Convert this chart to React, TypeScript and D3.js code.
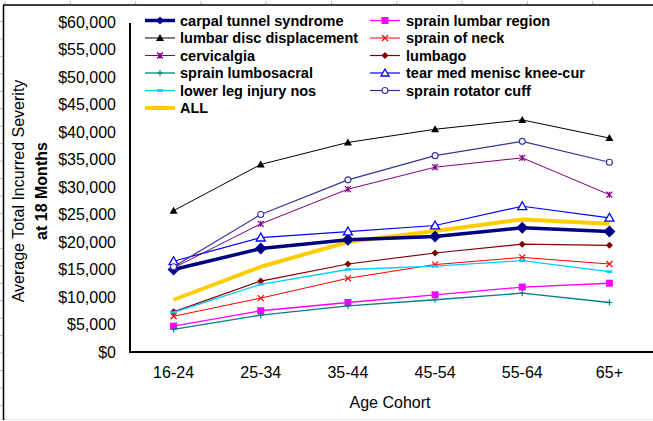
import React from "react";
import * as d3 from "d3";

// age groups on the x axis
const categories = ["16-24", "25-34", "35-44", "45-54", "55-64", "65+"];

// average total incurred severity at 18 months
const carpalTunnel = [15000, 18800, 20400, 21000, 22600, 21900];
const sprainLumbarRegion = [4700, 7500, 9000, 10400, 11800, 12500];
const lumbarDisc = [25700, 34100, 38100, 40500, 42200, 38900];
const sprainOfNeck = [6500, 9800, 13400, 15900, 17200, 16000];
const cervicalgia = [15300, 23300, 29600, 33600, 35300, 28600];
const lumbago = [7300, 12900, 16000, 18000, 19600, 19400];
const sprainLumbosacral = [4100, 6700, 8400, 9500, 10700, 9000];
const tearMedMenisc = [16500, 20800, 21900, 23000, 26500, 24400];
const lowerLegInjury = [7200, 12300, 15000, 15600, 16600, 14600];
const sprainRotatorCuff = [15500, 25000, 31300, 35700, 38300, 34500];
const allClaims = [9500, 15500, 20000, 22000, 24100, 23300];

const yTicks = [0, 5000, 10000, 15000, 20000, 25000, 30000, 35000, 40000, 45000, 50000, 55000, 60000];

const FONT = "'Liberation Sans', Arial, sans-serif";

type Marker = "diamond" | "triangle" | "triangleOpen" | "square" | "x" | "asterisk" | "plus" | "dash" | "circleOpen" | "none";

const series = [
  { name: "carpal tunnel syndrome", values: carpalTunnel, color: "#000080", width: 3.5, marker: "diamond" as Marker, size: 6 },
  { name: "sprain lumbar region", values: sprainLumbarRegion, color: "#FF00FF", width: 1.3, marker: "square" as Marker, size: 3.5 },
  { name: "lumbar disc displacement", values: lumbarDisc, color: "#000000", width: 1, marker: "triangle" as Marker, size: 4 },
  { name: "sprain of neck", values: sprainOfNeck, color: "#FF0000", width: 1, marker: "x" as Marker, size: 3 },
  { name: "cervicalgia", values: cervicalgia, color: "#800080", width: 1, marker: "asterisk" as Marker, size: 3 },
  { name: "lumbago", values: lumbago, color: "#800000", width: 1.2, marker: "diamond" as Marker, size: 3.5 },
  { name: "sprain lumbosacral", values: sprainLumbosacral, color: "#008080", width: 1.3, marker: "plus" as Marker, size: 3 },
  { name: "tear med menisc knee-cur", values: tearMedMenisc, color: "#0000FF", width: 1.2, marker: "triangleOpen" as Marker, size: 4.5 },
  { name: "lower leg injury nos", values: lowerLegInjury, color: "#00CCFF", width: 1.3, marker: "dash" as Marker, size: 3 },
  { name: "sprain rotator cuff", values: sprainRotatorCuff, color: "#333399", width: 1.2, marker: "circleOpen" as Marker, size: 3 },
  { name: "ALL", values: allClaims, color: "#FFCC00", width: 4, marker: "none" as Marker, size: 0 },
];

function MarkerShape({ type, color, size, x, y }: { type: Marker; color: string; size: number; x: number; y: number }) {
  const s = size;
  const t = `translate(${x},${y})`;
  switch (type) {
    case "diamond":
      return <path transform={t} d={`M0,${-s}L${s},0L0,${s}L${-s},0Z`} fill={color} />;
    case "triangle":
      return <path transform={t} d={`M0,${-s}L${s},${s * 0.75}L${-s},${s * 0.75}Z`} fill={color} />;
    case "triangleOpen":
      return <path transform={t} d={`M0,${-s}L${s},${s * 0.75}L${-s},${s * 0.75}Z`} fill="#fff" stroke={color} strokeWidth={1.3} />;
    case "square":
      return <rect transform={t} x={-s} y={-s} width={2 * s} height={2 * s} fill={color} />;
    case "x":
      return <path transform={t} d={`M${-s},${-s}L${s},${s}M${-s},${s}L${s},${-s}`} stroke={color} strokeWidth={1.2} />;
    case "asterisk":
      return <path transform={t} d={`M${-s},${-s}L${s},${s}M${-s},${s}L${s},${-s}M0,${-s}L0,${s}`} stroke={color} strokeWidth={1.2} />;
    case "plus":
      return <path transform={t} d={`M${-s},0L${s},0M0,${-s}L0,${s}`} stroke={color} strokeWidth={1.2} />;
    case "dash":
      return <path transform={t} d={`M${-s},0L${s},0`} stroke={color} strokeWidth={2.5} />;
    case "circleOpen":
      return <circle transform={t} r={s} fill="#fff" stroke={color} strokeWidth={1.1} />;
    default:
      return null;
  }
}

export default function App() {
  const width = 653;
  const height = 421;
  const left = 130;
  const right = 653;
  const top = 22;
  const bottom = 352;

  const x = d3.scaleBand().domain(categories).range([left, right]);
  const cx = (c: string) => (x(c) as number) + x.bandwidth() / 2;
  const y = d3.scaleLinear().domain([0, 60000]).range([bottom, top]);
  const fmt = d3.format("$,.0f");

  const line = d3
    .line<number>()
    .x((_, i) => cx(categories[i]))
    .y((d) => y(d));

  // ALL goes underneath the rest
  const drawOrder = [series[10], ...series.slice(0, 10)];

  // legend laid out in two columns, filled row by row
  const legendRows = [20.5, 38, 55.5, 73, 90.5, 108];
  const legendCols = [
    { x1: 145, x2: 175, tx: 180 },
    { x1: 370, x2: 400, tx: 406 },
  ];

  const gridTopTicks = d3.range(5, width, 65.3);
  const gridLeftTicks = d3.range(21.5, height, 17.45);

  return (
    <div style={{ position: "absolute", left: 0, top: 0 }}>
      <svg width={width} height={height} style={{ display: "block", background: "#fff" }}>
        {/* sheet frame */}
        <line x1={0} x2={width} y1={419.5} y2={419.5} stroke="#e6e6e6" strokeWidth={1} />
        {gridTopTicks.map((t) => (
          <line key={"tt" + t} x1={t} x2={t} y1={1} y2={4} stroke="#bbb" strokeWidth={1} />
        ))}
        {gridLeftTicks.map((t) => (
          <line key={"lt" + t} x1={0} x2={3} y1={t} y2={t} stroke="#bbb" strokeWidth={1} />
        ))}
        <line x1={3} x2={width} y1={5} y2={5} stroke="#000" strokeWidth={1.5} />
        <line x1={3.5} x2={3.5} y1={5} y2={420} stroke="#000" strokeWidth={1.5} />

        {/* y axis labels */}
        {yTicks.map((v) => (
          <text key={v} x={116} y={y(v)} dy="0.36em" textAnchor="end" fontFamily={FONT} fontSize={16} fill="#000">
            {fmt(v)}
          </text>
        ))}

        {/* y axis title */}
        <text
          transform={`translate(24,191) rotate(-90)`}
          textAnchor="middle"
          fontFamily={FONT}
          fontSize={16}
          fill="#000"
        >
          Average Total Incurred Severity
        </text>
        <text
          transform={`translate(47,191) rotate(-90)`}
          textAnchor="middle"
          fontFamily={FONT}
          fontSize={16}
          fontWeight="bold"
          fill="#000"
        >
          at 18 Months
        </text>

        {/* x axis labels */}
        {categories.map((c) => (
          <text key={c} x={cx(c)} y={372} dy="0.36em" textAnchor="middle" fontFamily={FONT} fontSize={16} fill="#000">
            {c}
          </text>
        ))}
        <text x={390} y={402} dy="0.36em" textAnchor="middle" fontFamily={FONT} fontSize={16} fill="#000">
          Age Cohort
        </text>

        {/* series */}
        {drawOrder.map((s) => (
          <g key={s.name}>
            <path d={line(s.values) as string} fill="none" stroke={s.color} strokeWidth={s.width} strokeLinejoin="round" />
            {s.values.map((v, i) => (
              <MarkerShape key={i} type={s.marker} color={s.color} size={s.size} x={cx(categories[i])} y={y(v)} />
            ))}
          </g>
        ))}

        {/* axes */}
        <line x1={left} x2={left} y1={top + 1} y2={bottom + 1} stroke="#000" strokeWidth={2} />
        <line x1={left - 1} x2={right} y1={bottom} y2={bottom} stroke="#000" strokeWidth={2} />

        {/* legend */}
        {series.map((s, i) => {
          const col = legendCols[i % 2];
          const ly = legendRows[Math.floor(i / 2)];
          return (
            <g key={"lg" + s.name}>
              <line x1={col.x1} x2={col.x2} y1={ly} y2={ly} stroke={s.color} strokeWidth={s.width} />
              <MarkerShape type={s.marker} color={s.color} size={Math.min(s.size, 4)} x={(col.x1 + col.x2) / 2} y={ly} />
              <text x={col.tx} y={ly} dy="0.36em" fontFamily={FONT} fontSize={14.5} fontWeight="bold" fill="#000">
                {s.name}
              </text>
            </g>
          );
        })}
      </svg>
    </div>
  );
}
